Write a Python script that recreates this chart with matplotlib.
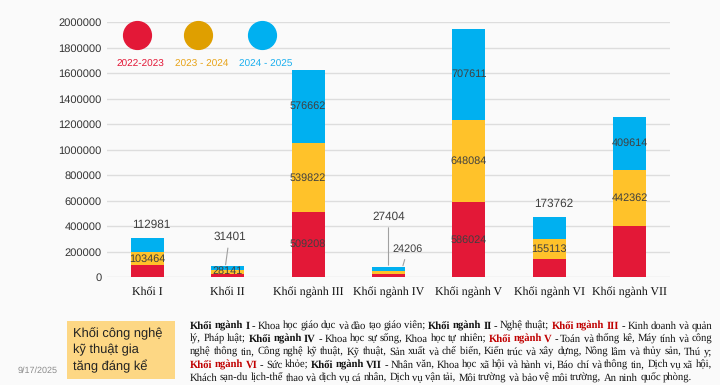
import unicodedata
import matplotlib
matplotlib.use("Agg")
import matplotlib.pyplot as plt
import numpy as np
from matplotlib.patches import Rectangle

plt.rcParams["text.hinting"] = "no_hinting"


def nfc(s):
    return unicodedata.normalize("NFC", s)


# data
categories = ["Khối I", "Khối II", "Khối ngành III", "Khối ngành IV",
              "Khối ngành V", "Khối ngành VI", "Khối ngành VII"]
years = ["2022-2023", "2023 - 2024", "2024 - 2025"]
v_2022 = [92000, 25000, 509208, 24000, 586024, 145000, 400000]
v_2023 = [103464, 28141, 539822, 24206, 648084, 155113, 442362]
v_2024 = [112981, 31401, 576662, 27404, 707611, 173762, 409614]
y_ticks = [0, 200000, 400000, 600000, 800000, 1000000, 1200000,
           1400000, 1600000, 1800000, 2000000]

RED = "#E31837"
YEL = "#FFC22A"
BLUE = "#00B0F0"
LEG_YEL = "#DF9F00"
LBL = "#404040"
BG = "#FAFAFA"

fig = plt.figure(figsize=(7.2, 3.85), dpi=100, facecolor=BG)
ax = fig.add_axes([107 / 720, 1 - 277 / 385, 563 / 720, 255 / 385])
ax.set_facecolor(BG)

x = np.arange(len(categories))
w = 0.41
b1 = np.array(v_2022)
b2 = b1 + np.array(v_2023)
tot = b2 + np.array(v_2024)
ax.bar(x, v_2022, w, color=RED, zorder=3)
ax.bar(x, v_2023, w, bottom=b1, color=YEL, zorder=3)
ax.bar(x, v_2024, w, bottom=b2, color=BLUE, zorder=3)

ax.set_xlim(-0.5, len(categories) - 0.5)
ax.set_ylim(0, 2000000)
ax.set_yticks(y_ticks)
ax.set_yticklabels([str(t) for t in y_ticks], fontsize=8, family="Liberation Sans", color="#333333")
ax.set_xticks(x)
ax.set_xticklabels([nfc(c) for c in categories], fontsize=8.6, family="Liberation Serif", color="#111111")
ax.tick_params(length=0, pad=4)
ax.tick_params(axis="x", pad=7)
for s in ax.spines.values():
    s.set_visible(False)
ax.yaxis.grid(True, color="#DDDDDD", linewidth=1, zorder=0)

lbl_kw = dict(fontsize=7.8, family="Liberation Sans", color=LBL, ha="center", va="center", zorder=5)
# labels centred in segments
for i in [2, 4]:
    ax.text(x[i], b1[i] / 2, str(v_2022[i]), **lbl_kw)
for i in [0, 2, 4, 5, 6]:
    ax.text(x[i], (b1[i] + b2[i]) / 2, str(v_2023[i]), **lbl_kw)
for i in [2, 4, 6]:
    ax.text(x[i], (b2[i] + tot[i]) / 2, str(v_2024[i]), **lbl_kw)
# labels above bars
for i in [0, 5]:
    ax.annotate(str(v_2024[i]), xy=(x[i], tot[i]), xytext=(3, 9), textcoords="offset points",
                **{**lbl_kw, "fontsize": 8.5})
# leader-line labels for small bars
line = dict(arrowstyle="-", color="#A0A0A0", lw=0.8)
ax.annotate(str(v_2024[1]), xy=(x[1] - 0.03, tot[1] - 10000), xytext=(3, 22), textcoords="offset points",
            arrowprops=line, **{**lbl_kw, "fontsize": 8.5})
ax.text(x[1], b2[1] - 5000, str(v_2023[1]), **lbl_kw)
ax.annotate(str(v_2024[3]), xy=(x[3], tot[3] - 5000), xytext=(0, 37), textcoords="offset points",
            arrowprops=line, **{**lbl_kw, "fontsize": 8.5})
ax.annotate(str(v_2023[3]), xy=(x[3] + 0.17, tot[3] - 8000), xytext=(4, 14), textcoords="offset points",
            arrowprops=line, **lbl_kw)

# legend: circles with year text below
leg_x = [0.053, 0.162, 0.275]
leg_c = [RED, LEG_YEL, BLUE]
txt_c = [RED, "#E8A317", "#1AAFEF"]
for lx, c, tc, yr in zip(leg_x, leg_c, txt_c, years):
    ax.scatter([lx], [0.949], s=400, color=c, transform=ax.transAxes, zorder=6, clip_on=False)
    ax.text(lx + 0.006, 0.833, yr, transform=ax.transAxes, color=tc, fontsize=7.2,
            family="Liberation Sans", ha="center", va="center")

# bottom-left callout box
fig.patches.append(Rectangle((67 / 720, 1 - 379 / 385), 108 / 720, 58 / 385,
                             transform=fig.transFigure, facecolor="#FDD784", edgecolor="none"))
fig.text(73 / 720, 1 - 350 / 385, nfc("Khối công nghệ\nkỹ thuật gia\ntăng đáng kể"), fontsize=9.3,
         family="Liberation Sans", color="#222222", va="center", ha="left", linespacing=1.35)
fig.text(38 / 720, 1 - 371 / 385, "9/17/2025", fontsize=6.5, family="Liberation Sans",
         color="#8C8C8C", ha="center", va="center")

# justified paragraph of group descriptions
B, R = "bold", "red"
para = [
    ([("Khối ngành I", B), (" - Khoa học giáo dục và đào tạo giáo viên; ", None), ("Khối ngành II", B),
      (" - Nghệ thuật; ", None), ("Khối ngành III", R), (" - Kinh doanh và quản", None)], True),
    ([("lý, Pháp luật; ", None), ("Khối ngành IV", B), (" - Khoa học sự sống, Khoa học tự nhiên; ", None),
      ("Khối ngành V", R), (" - Toán và thống kê, Máy tính và công", None)], True),
    ([("nghệ thông tin, Công nghệ kỹ thuật, Kỹ thuật, Sản xuất và chế biến, Kiến trúc và xây dựng, "
       "Nông lâm và thủy sản, Thú y;", None)], True),
    ([("Khối ngành VI", R), (" - Sức khỏe; ", None), ("Khối ngành VII", B),
      (" - Nhân văn, Khoa học xã hội và hành vi, Báo chí và thông tin, Dịch vụ xã hội,", None)], True),
    ([("Khách sạn-du lịch-thể thao và dịch vụ cá nhân, Dịch vụ vận tải, Môi trường và bảo vệ môi "
       "trường, An ninh quốc phòng.", None)], False),
]
renderer = fig.canvas.get_renderer()
x0, x1 = 190, 712
line_y = [326, 339, 352, 365, 378]
fs = 7.7
for (segs, just), ly in zip(para, line_y):
    words = []
    for txt, sty in segs:
        for wd in nfc(txt).split():
            words.append((wd, sty))
    arts = []
    for wd, sty in words:
        t = fig.text(0, 1 - ly / 385, wd, fontsize=fs, family="Liberation Serif",
                     fontweight="bold" if sty in (B, R) else "normal",
                     color="#C00000" if sty == R else "#111111", va="center", ha="left")
        arts.append(t)
    widths = [a.get_window_extent(renderer).width for a in arts]
    if just and len(arts) > 1:
        gap = (x1 - x0 - sum(widths)) / (len(arts) - 1)
    else:
        gap = 2.3
    cx = x0
    for a, wd in zip(arts, widths):
        a.set_x(cx / 720)
        cx += wd + gap

fig.savefig("out.png", dpi=100, facecolor=BG)
